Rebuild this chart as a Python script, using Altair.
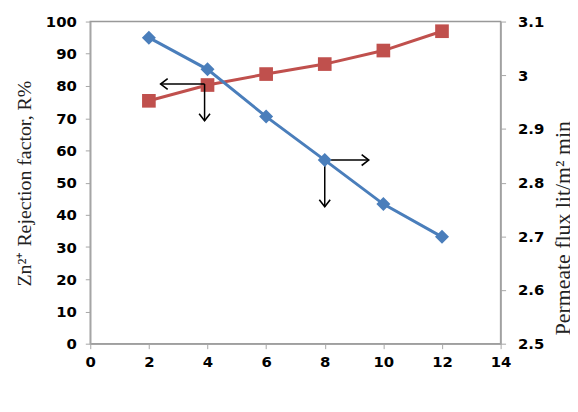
import altair as alt
import pandas as pd

ph = [2, 4, 6, 8, 10, 12]
rejection = [75.4, 80.3, 83.7, 86.8, 91.0, 97.0]
flux = [3.070, 3.011, 2.923, 2.842, 2.760, 2.699]

# arrow annotations (left-axis units)
arrow_x = [3.9, 3.9, 8.0, 8.0]
arrow_y = [80.6, 80.6, 57.0, 57.0]
arrow_x2 = [2.4, 3.9, 9.5, 8.0]
arrow_y2 = [80.6, 69.2, 57.0, 42.5]
arrow_angle = [180, 90, 0, 90]

x_ticks = [0, 2, 4, 6, 8, 10, 12, 14]
left_ticks = [0, 10, 20, 30, 40, 50, 60, 70, 80, 90, 100]
right_ticks = [2.5, 2.6, 2.7, 2.8, 2.9, 3.0, 3.1]

df = pd.DataFrame({"ph": ph, "rej": rejection, "flux": flux})
arr = pd.DataFrame({"x": arrow_x, "y": arrow_y, "x2": arrow_x2, "y2": arrow_y2, "ang": arrow_angle})

RED = "#C0504D"
BLUE = "#4A7EBB"
AX = "#a6a6a6"

xscale = alt.Scale(domain=[0, 14], nice=False)
lscale = alt.Scale(domain=[0, 100], nice=False)
rscale = alt.Scale(domain=[2.5, 3.1], nice=False, zero=False)

xaxis = alt.Axis(values=x_ticks, title="Solution pH", grid=False,
                 titleFont="Liberation Serif", titleFontSize=20, titleFontWeight="normal",
                 titleY=60, labelPadding=6)
laxis = alt.Axis(values=left_ticks, title="Zn²⁺ Rejection factor, R%", grid=False,
                 titleFont="Liberation Serif", titleFontSize=20, titleFontWeight="normal",
                 titleX=-66, titleY=163, titleBaseline="middle", titleAngle=270,
                 labelPadding=9, labelOverlap=False)
raxis = alt.Axis(orient="right", values=right_ticks, format="~g",
                 title="Permeate flux lit/m² min", grid=False,
                 titleFont="Liberation Serif", titleFontSize=22, titleFontWeight="normal",
                 titleX=63, titleY=208, titleBaseline="middle", titleAngle=270,
                 labelPadding=12, labelOverlap=False)

red_line = alt.Chart(df).mark_line(color=RED, strokeWidth=3).encode(
    x=alt.X("ph:Q", scale=xscale, axis=xaxis), y=alt.Y("rej:Q", scale=lscale, axis=laxis))
red_pts = alt.Chart(df).mark_point(shape="square", filled=True, color=RED, size=190, opacity=1).encode(
    x=alt.X("ph:Q", scale=xscale, axis=xaxis), y=alt.Y("rej:Q", scale=lscale, axis=laxis))

shafts = alt.Chart(arr).mark_rule(color="black", strokeWidth=1.5).encode(
    x=alt.X("x:Q", scale=xscale, axis=xaxis), y=alt.Y("y:Q", scale=lscale, axis=laxis),
    x2="x2:Q", y2="y2:Q")
heads = alt.Chart(arr).mark_point(shape="M -1.3 -1 L 0 0 L -1.3 1", filled=False, color="black",
                                  strokeWidth=1.6, size=120, opacity=1).encode(
    x=alt.X("x2:Q", scale=xscale, axis=xaxis), y=alt.Y("y2:Q", scale=lscale, axis=laxis),
    angle=alt.Angle("ang:Q", scale=None))

left = alt.layer(red_line, red_pts, shafts, heads)

blue_line = alt.Chart(df).mark_line(color=BLUE, strokeWidth=3).encode(
    x=alt.X("ph:Q", scale=xscale, axis=xaxis), y=alt.Y("flux:Q", scale=rscale, axis=raxis))
blue_pts = alt.Chart(df).mark_point(shape="diamond", filled=True, color=BLUE, size=200, opacity=1).encode(
    x=alt.X("ph:Q", scale=xscale, axis=xaxis), y=alt.Y("flux:Q", scale=rscale, axis=raxis))
right = alt.layer(blue_line, blue_pts)

chart = alt.layer(left, right).resolve_scale(y="independent").properties(
    width=414, height=325,
    padding={"left": 83, "top": 12, "right": 70, "bottom": 40},
    autosize=alt.AutoSizeParams(type="none"),
).configure_view(stroke="#999999", strokeWidth=1.5).configure_axis(
    domainColor=AX, tickColor=AX, tickSize=5, domainWidth=1.5,
    labelFont="DejaVu Sans", labelFontWeight="bold", labelFontSize=15, labelColor="black",
    labelOverlap=False, labelFlush=False,
    titleColor="#222222",
)

chart.save("out.html", embed_options={"renderer": "svg", "actions": False})
